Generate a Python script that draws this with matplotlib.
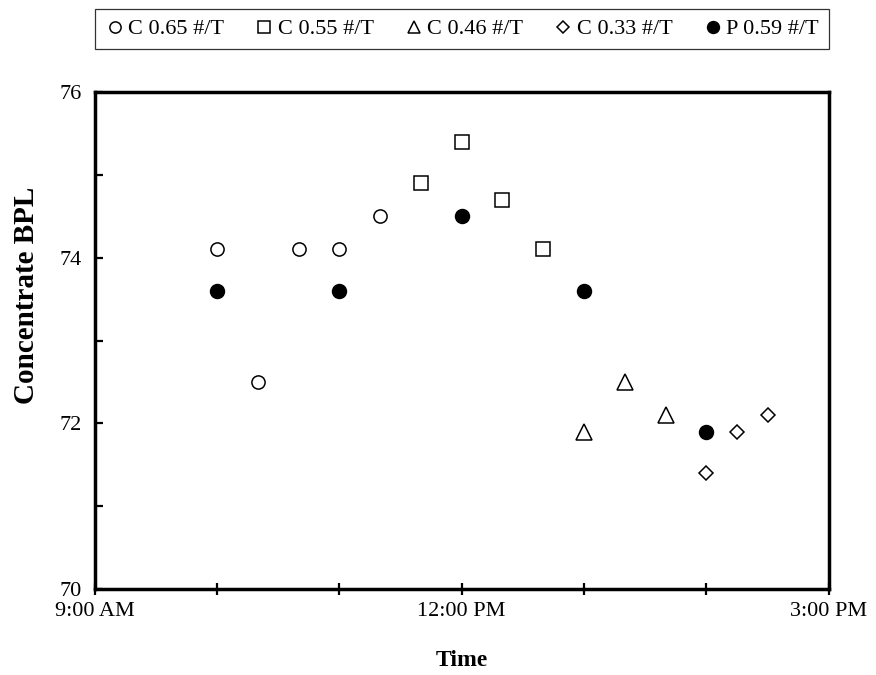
import matplotlib
matplotlib.use("Agg")
import matplotlib.pyplot as plt
from matplotlib.ticker import MultipleLocator, FixedLocator

plt.rcParams["font.family"] = ["Liberation Serif", "DejaVu Serif"]

# sample times (hh:mm, 24h) and concentrate BPL for each series
c065_time = ["10:00", "10:20", "10:40", "11:00", "11:20"]
c065_bpl = [74.1, 72.5, 74.1, 74.1, 74.5]
c055_time = ["11:40", "12:00", "12:20", "12:40"]
c055_bpl = [74.9, 75.4, 74.7, 74.1]
c046_time = ["13:00", "13:20", "13:40"]
c046_bpl = [71.9, 72.5, 72.1]
c033_time = ["14:00", "14:15", "14:30"]
c033_bpl = [71.4, 71.9, 72.1]
p059_time = ["10:00", "11:00", "12:00", "13:00", "14:00"]
p059_bpl = [73.6, 73.6, 74.5, 73.6, 71.9]

x_tick_hours = [9, 12, 15]
x_tick_labels = ["9:00 AM", "12:00 PM", "3:00 PM"]


def to_hours(times):
    out = []
    for t in times:
        h, m = t.split(":")
        out.append(int(h) + int(m) / 60.0)
    return out


fig = plt.figure(figsize=(8.76, 6.75), dpi=100)
ax = fig.add_axes([0.108, 0.127, 0.838, 0.737])

mew = 1.1
ax.plot(to_hours(c065_time), c065_bpl, linestyle="none", marker="o", markersize=9.5,
        markerfacecolor="white", markeredgecolor="black", markeredgewidth=mew, label="C 0.65 #/T")
ax.plot(to_hours(c055_time), c055_bpl, linestyle="none", marker="s", markersize=9.5,
        markerfacecolor="white", markeredgecolor="black", markeredgewidth=mew, label="C 0.55 #/T")
ax.plot(to_hours(c046_time), c046_bpl, linestyle="none", marker="^", markersize=11,
        markerfacecolor="white", markeredgecolor="black", markeredgewidth=mew, label="C 0.46 #/T")
ax.plot(to_hours(c033_time), c033_bpl, linestyle="none", marker="D", markersize=7.5,
        markerfacecolor="white", markeredgecolor="black", markeredgewidth=mew, label="C 0.33 #/T")
ax.plot(to_hours(p059_time), p059_bpl, linestyle="none", marker="o", markersize=10,
        markerfacecolor="black", markeredgecolor="black", markeredgewidth=mew, label="P 0.59 #/T")

ax.set_xlim(9, 15)
ax.set_ylim(70, 76)
ax.xaxis.set_major_locator(FixedLocator(x_tick_hours))
ax.set_xticklabels(x_tick_labels)
ax.xaxis.set_minor_locator(MultipleLocator(1))
ax.yaxis.set_major_locator(MultipleLocator(2))
ax.yaxis.set_minor_locator(MultipleLocator(1))

ax.tick_params(axis="x", which="both", direction="inout", length=8, width=1.6, labelsize=16, pad=5)
ax.tick_params(axis="y", which="both", direction="in", length=5.5, width=1.6, labelsize=16, pad=9)
for s in ax.spines.values():
    s.set_linewidth(2.5)

ax.set_xlabel("Time", fontsize=17, fontweight="bold")
ax.xaxis.label.set_va("center")
ax.xaxis.set_label_coords(0.5, -0.143)
ax.set_ylabel("Concentrate BPL", fontsize=21, fontweight="bold")
ax.yaxis.label.set_va("center")
ax.yaxis.set_label_coords(-0.093, 0.59)

leg = fig.legend(loc="upper left", bbox_to_anchor=(0.108, 0.987, 0.838, 0.0), mode="expand",
                 ncol=5, fontsize=16, frameon=True, fancybox=False, edgecolor="black",
                 handletextpad=0.15, borderaxespad=0, borderpad=0.45, columnspacing=1.0,
                 handlelength=0.9, markerscale=0.85)
leg.get_frame().set_linewidth(0.9)

fig.savefig("out.png", dpi=100)
